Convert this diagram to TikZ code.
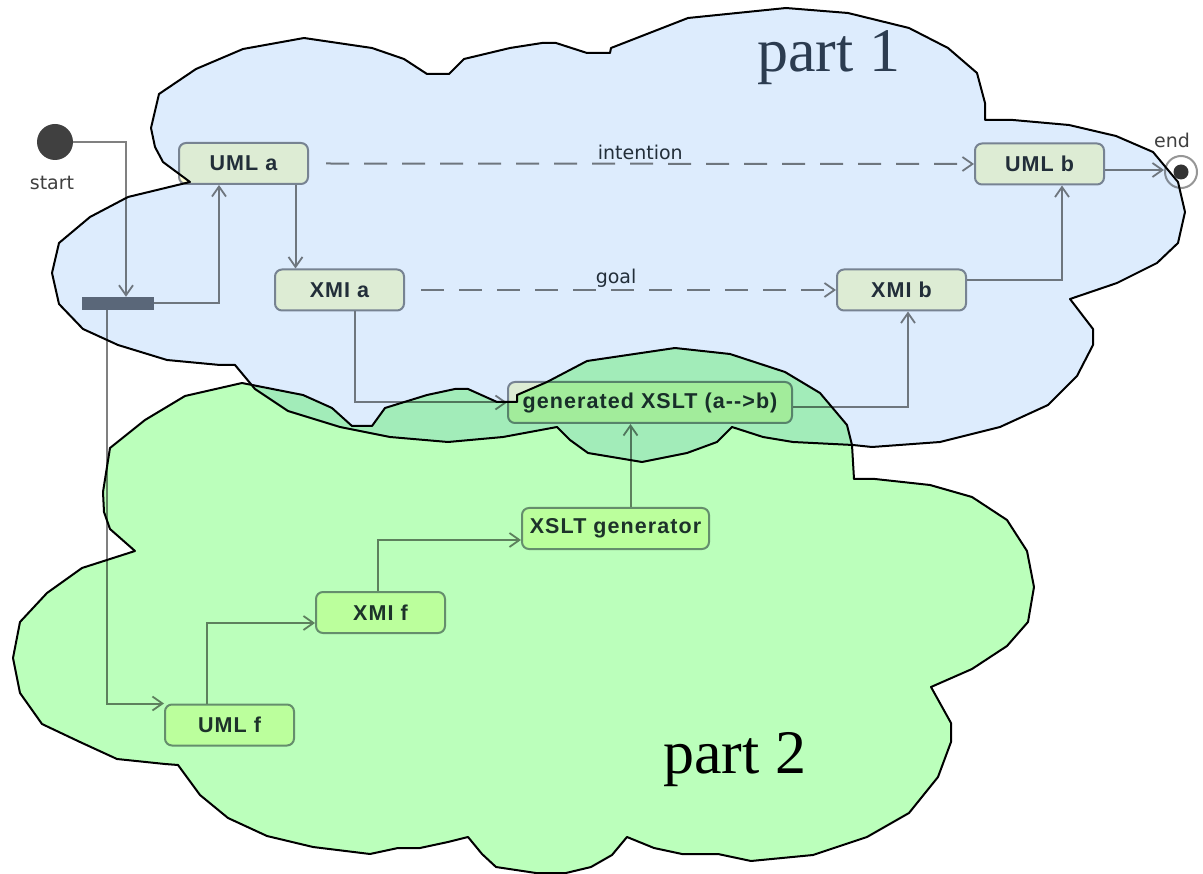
\documentclass[tikz,border=0pt]{standalone}
\usepackage{fontspec}
\setmainfont{Liberation Sans}
\newfontfamily\boxfont{Liberation Sans}[LetterSpace=5]
\newfontfamily\tagfont{DejaVu Sans}
\newfontfamily\titlefont{Liberation Serif}
\usetikzlibrary{arrows.meta,calc}

% base colours of the activity diagram (the clouds are multiplied on top)
\definecolor{boxfill}{RGB}{255,255,214}
\definecolor{boxline}{RGB}{138,142,148}
\definecolor{boxtext}{RGB}{40,50,58}
\definecolor{linegray}{RGB}{128,128,128}
\definecolor{forkgray}{RGB}{104,112,122}
\definecolor{startgray}{RGB}{64,64,64}
\definecolor{endring}{RGB}{150,150,150}
\definecolor{enddot}{RGB}{50,50,50}
% cloud colours
\definecolor{cloudblue}{RGB}{221,236,253}
\definecolor{cloudgreen}{RGB}{187,255,187}
\definecolor{parttext}{RGB}{44,60,80}

\tikzset{
  box/.style={draw=boxline, line width=2pt, fill=boxfill, rounded corners=7pt,
    minimum width=129pt, minimum height=41pt, inner sep=0pt,
    font=\boxfont\bfseries\fontsize{21.5}{24}\selectfont, text=boxtext},
  conn/.style={draw=linegray, line width=2pt,
    -{Straight Barb[length=10pt,width=14pt,line width=1.8pt]}},
  dconn/.style={conn, dash pattern=on 23pt off 15pt},
  tag/.style={font=\tagfont\fontsize{19}{22}\selectfont, text=boxtext, inner sep=1pt},
  cloudline/.style={draw=black, line width=2pt, line join=round},
}

\begin{document}
\begin{tikzpicture}[x=1pt,y=-1pt]
\useasboundingbox[fill=white] (0,0) rectangle (1203,874);

% ---------- activity diagram ----------
\node[circle, fill=startgray, minimum size=36pt, inner sep=0pt] (start) at (55,142) {};
\node[tag, text=startgray] (startlbl) at (52,183) {start};
\node[fill=forkgray, minimum width=72pt, minimum height=13pt, inner sep=0pt] (fork) at (118,303.5) {};

\node[box] (umla) at (243.5,163.5) {UML a};
\node[box] (xmia) at (339.5,290) {XMI a};
\node[box] (umlb) at (1039.5,164) {UML b};
\node[box] (xmib) at (901.5,290) {XMI b};
\node[box, minimum width=284pt] (gen) at (650,402.5) {generated XSLT (a-{}->b)};
\node[box, minimum width=187pt] (xgen) at (615.5,528.5) {XSLT generator};
\node[box] (xmif) at (380.5,612.5) {XMI f};
\node[box] (umlf) at (229.5,725) {UML f};

\node[circle, draw=endring, line width=2pt, fill=white, minimum size=32pt, inner sep=0pt] (end) at (1181,172) {};
\fill[enddot] (end.center) circle (7.5pt);
\node[tag, text=startgray] (endlbl) at (1172,140) {end};

% control flow
\draw[conn] (start.east) -| ([xshift=8pt]fork.north);
\draw[conn] (fork.east) -| ([xshift=-24.5pt]umla.south);
\draw[conn] ([xshift=-11pt]fork.south) |- (umlf.north west);
\draw[conn] ([xshift=52pt]umla.south) -- ([xshift=52pt]umla.south |- xmia.north);
\draw[conn] ([xshift=15.5pt]xmia.south) |- (gen.west);
\draw[conn] ([yshift=-5pt]gen.east) -| ([xshift=6.5pt]xmib.south);
\draw[conn] ([xshift=15pt]xgen.north) -- ([xshift=15pt]xgen.north |- gen.south);
\draw[conn] ([xshift=-2.5pt]xmif.north) |- ([yshift=-11.5pt]xgen.west);
\draw[conn] ([xshift=-22.5pt]umlf.north) |- ([yshift=-10.5pt]xmif.west);
\draw[conn] ([yshift=10pt]xmib.east) -| ([xshift=22.5pt]umlb.south);
\draw[conn] ([yshift=-6pt]umlb.east) -- ([yshift=-6pt]umlb.east -| end.west);

% dashed relations
\draw[dconn] ([xshift=17pt]umla.east) -- (umlb.west)
  node[tag, pos=0.485, above, yshift=2pt] (intent) {intention};
\draw[dconn] ([xshift=16pt]xmia.east) -- (xmib.west)
  node[tag, pos=0.47, above, yshift=1pt] (goal) {goal};

% ---------- clouds ----------
\begin{scope}[blend mode=multiply]
\path[fill=cloudblue, cloudline]
  (190,182) -- (163,162) -- (155,147) -- (151,128) -- (159,94) -- (196,69) -- (243,49)
  -- (304,38) -- (372,48) -- (404,59) -- (427,74) -- (449,74) -- (464,59) -- (510,48)
  -- (542,43) -- (556,43) -- (587,53) -- (610,53) -- (611,48) -- (688,18) -- (786,8)
  -- (848,13) -- (909,28) -- (948,48) -- (977,73) -- (985,103) -- (985,120) -- (1013,120)
  -- (1069,125) -- (1116,136) -- (1153,152) -- (1178,182) -- (1185,212) -- (1178,243)
  -- (1157,263) -- (1117,283) -- (1070,299) -- (1093,329) -- (1093,345) -- (1077,376)
  -- (1048,405) -- (1000,427) -- (940,442) -- (872,447) -- (853,445) -- (793,442)
  -- (763,437) -- (732,427) -- (717,442) -- (687,453) -- (642,462) -- (588,453)
  -- (570,440) -- (557,427) -- (503,437) -- (448,442) -- (390,437) -- (340,427)
  -- (288,411) -- (255,389) -- (235,365) -- (220,365) -- (167,360) -- (118,345)
  -- (83,329) -- (59,304) -- (52,273) -- (59,243) -- (90,217) -- (128,197) -- cycle;
\path[fill=cloudgreen, cloudline]
  (332,408) -- (352,426) -- (372,426) -- (385,408) -- (427,395) -- (455,389) -- (468,389)
  -- (497,402) -- (517,402) -- (517,395) -- (547,382) -- (587,361) -- (675,348)
  -- (730,354) -- (785,372) -- (820,393) -- (847,425) -- (852,445) -- (854,479)
  -- (875,479) -- (930,485) -- (972,497) -- (1007,520) -- (1027,551) -- (1034,587)
  -- (1028,622) -- (1007,646) -- (972,669) -- (931,687) -- (951,723) -- (951,742)
  -- (938,777) -- (909,813) -- (867,837) -- (813,855) -- (751,861) -- (718,854)
  -- (682,854) -- (654,848) -- (627,837) -- (612,855) -- (591,867) -- (566,873)
  -- (536,873) -- (496,867) -- (482,854) -- (468,837) -- (448,842) -- (420,848)
  -- (398,848) -- (370,854) -- (313,847) -- (267,836) -- (228,818) -- (200,795)
  -- (178,765) -- (165,764) -- (117,759) -- (80,742) -- (42,724) -- (20,693)
  -- (13,658) -- (20,622) -- (47,593) -- (82,568) -- (135,551) -- (110,529)
  -- (104,512) -- (103,492) -- (110,448) -- (145,420) -- (185,396) -- (242,383)
  -- (303,395) -- cycle;
\end{scope}

% cloud titles
\node[font=\titlefont\fontsize{62}{70}\selectfont, text=parttext, anchor=base west, inner sep=0pt]
  (part1) at (757,72) {part 1};
\node[font=\titlefont\fontsize{62}{70}\selectfont, text=black, anchor=base west, inner sep=0pt]
  (part2) at (663,773) {part 2};
\end{tikzpicture}
\end{document}
